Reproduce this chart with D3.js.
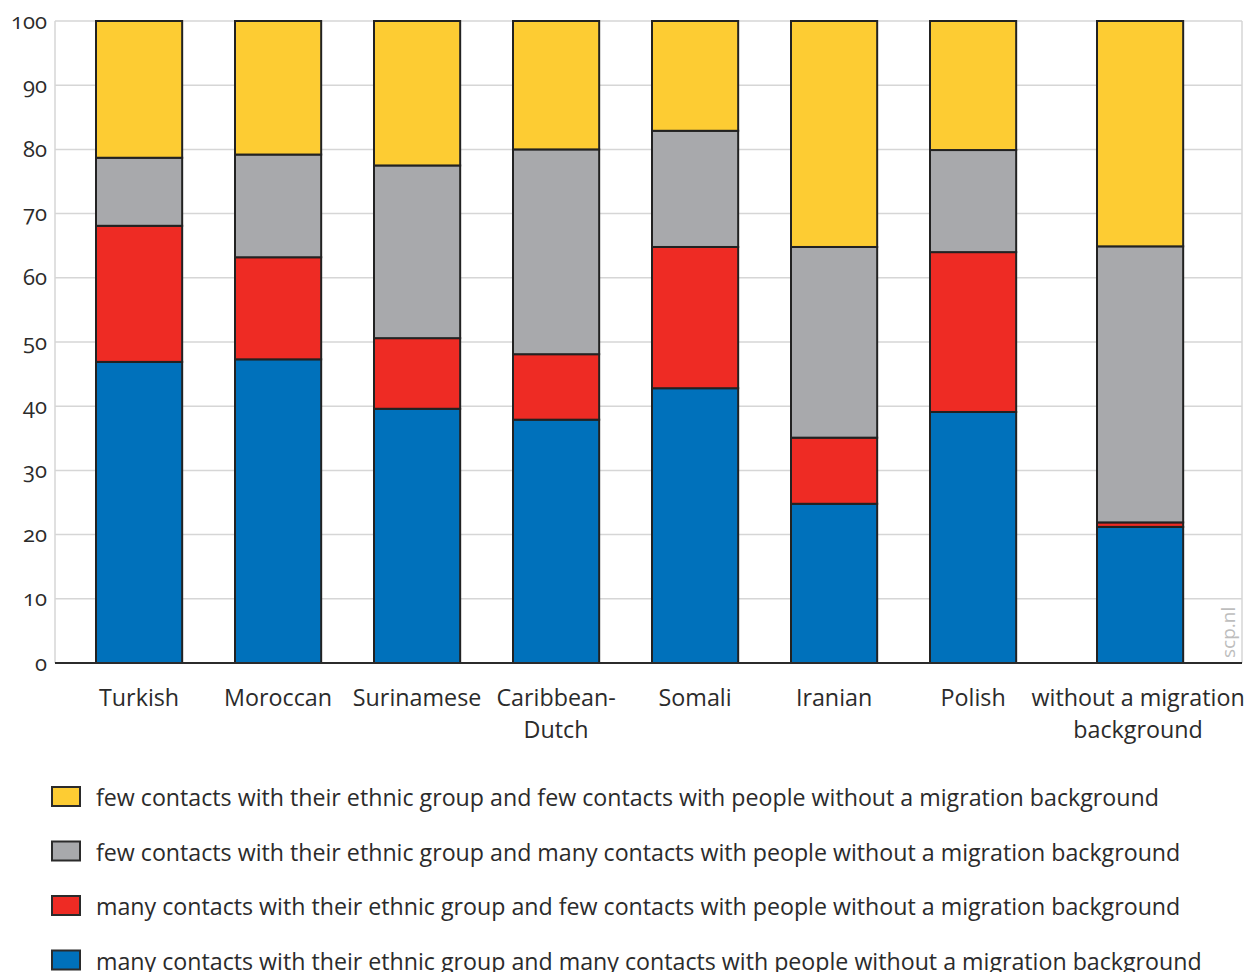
<!DOCTYPE html>
<html>
<head>
<meta charset="utf-8">
<script src="https://cdn.jsdelivr.net/npm/d3@7"></script>
<style>
  html, body { margin: 0; padding: 0; background: #fff; }
  svg { display: block; font-family: "Open Sans", "Noto Sans", sans-serif; }
</style>
</head>
<body>
<svg id="chart" width="1248" height="972"></svg>
<script>
// ---- data ----
const categories = ["Turkish", "Moroccan", "Surinamese", "Caribbean-\nDutch", "Somali", "Iranian", "Polish", "without a migration\nbackground"];
const manyMany = [46.9, 47.3, 39.6, 37.9, 42.8, 24.8, 39.1, 21.2];   // blue
const manyFew  = [21.2, 15.9, 11.0, 10.2, 22.0, 10.3, 24.9, 0.7];    // red
const fewMany  = [10.6, 16.0, 26.9, 31.9, 18.1, 29.7, 15.9, 43.0];   // gray
const fewFew   = [21.3, 20.8, 22.5, 20.0, 17.1, 35.2, 20.1, 35.1];   // yellow
const seriesKeys = ["manyMany", "manyFew", "fewMany", "fewFew"];
const seriesLabels = [
  "many contacts with their ethnic group and many contacts with people without a migration background",
  "many contacts with their ethnic group and few contacts with people without a migration background",
  "few contacts with their ethnic group and many contacts with people without a migration background",
  "few contacts with their ethnic group and few contacts with people without a migration background"
];
const seriesColors = ["#0071bb", "#ee2b24", "#a8a9ac", "#fdcc33"];
const yTicks = [0, 10, 20, 30, 40, 50, 60, 70, 80, 90, 100];

// ---- layout ----
const svg = d3.select("#chart");
const plotLeft = 55, plotRight = 1242, plotTop = 21, plotBottom = 663;
const refGap = 28; // extra gap before reference group

const table = categories.map((c, i) => ({
  cat: c, manyMany: manyMany[i], manyFew: manyFew[i], fewMany: fewMany[i], fewFew: fewFew[i]
}));
const stacked = d3.stack().keys(seriesKeys)(table);

const x = d3.scaleBand().domain(categories).range([54.3, 54.3 + 139 * 8.22])
  .paddingInner(0.38).paddingOuter(0.3);
const isRef = c => c === categories[categories.length - 1];
const xPos = c => x(c) + (isRef(c) ? refGap : 0);
const y = d3.scaleLinear().domain([0, 100]).range([plotBottom, plotTop]);

// gridlines
svg.append("g").selectAll("line").data(yTicks.filter(d => d > 0)).join("line")
  .attr("x1", plotLeft).attr("x2", plotRight)
  .attr("y1", d => y(d)).attr("y2", d => y(d))
  .attr("stroke", "#d6d6d6").attr("stroke-width", 1.5);
svg.append("line").attr("x1", plotLeft).attr("x2", plotLeft)
  .attr("y1", plotTop).attr("y2", plotBottom).attr("stroke", "#d6d6d6").attr("stroke-width", 1.5);
svg.append("line").attr("x1", plotRight).attr("x2", plotRight)
  .attr("y1", plotTop).attr("y2", plotBottom).attr("stroke", "#d6d6d6").attr("stroke-width", 1.5);

// y axis labels
const yAxis = d3.axisLeft(y).tickValues(yTicks).tickSize(0).tickPadding(8);
const ya = svg.append("g").attr("transform", `translate(${plotLeft},0)`).call(yAxis);
ya.select(".domain").remove();
ya.selectAll("text").attr("font-size", 22).attr("fill", "#2b2b2b")
  .style("font-family", "'Open Sans', sans-serif")
  .style("font-variant-numeric", "oldstyle-nums");

// watermark
svg.append("text").attr("transform", `translate(1235,658) rotate(-90)`)
  .attr("font-size", 19).attr("fill", "#bdbdbd").text("scp.nl");

// bars
svg.append("g").selectAll("g").data(stacked).join("g")
  .attr("fill", (d, i) => seriesColors[i])
  .selectAll("rect").data(d => d).join("rect")
  .attr("x", d => xPos(d.data.cat))
  .attr("width", x.bandwidth())
  .attr("y", d => y(d[1]))
  .attr("height", d => y(d[0]) - y(d[1]))
  .attr("stroke", "#222").attr("stroke-width", 2);

// baseline
svg.append("line").attr("x1", plotLeft).attr("x2", plotRight)
  .attr("y1", plotBottom).attr("y2", plotBottom).attr("stroke", "#2b2b2b").attr("stroke-width", 2);

// category labels
const cl = svg.append("g").selectAll("text").data(categories).join("text")
  .attr("text-anchor", "middle").attr("font-size", 23.3).attr("fill", "#2b2b2b")
  .attr("y", 706);
cl.each(function(c) {
  const lines = c.split("\n");
  const cx = xPos(c) + x.bandwidth() / 2 + (isRef(c) ? -2 : 0);
  d3.select(this).selectAll("tspan").data(lines).join("tspan")
    .attr("x", cx)
    .attr("dy", (l, i) => i === 0 ? 0 : 32)
    .text(l => l);
});

// legend (top to bottom: yellow, gray, red, blue)
const legendOrder = [3, 2, 1, 0];
const lg = svg.append("g").selectAll("g").data(legendOrder).join("g")
  .attr("transform", (d, i) => `translate(52,${787 + i * 54.5})`);
lg.append("rect").attr("width", 28).attr("height", 19)
  .attr("fill", d => seriesColors[d]).attr("stroke", "#2b2b2b").attr("stroke-width", 2);
lg.append("text").attr("x", 44).attr("y", 19).attr("font-size", 23.2).attr("fill", "#2b2b2b")
  .text(d => seriesLabels[d]);
</script>
</body>
</html>
